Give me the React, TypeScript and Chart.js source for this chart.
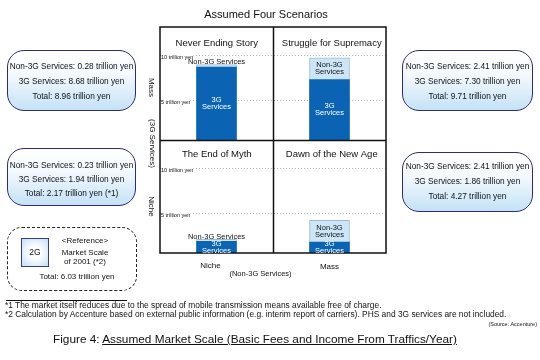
import React, { useEffect, useRef } from 'react';
import { Chart, registerables } from 'chart.js';

Chart.register(...registerables);

const FONT = '"Liberation Sans", Arial, sans-serif';

// x categories: level of Non-3G services; rows: level of 3G services (top to bottom)
const nonThreeGLevels = ['Niche', 'Mass'];
const threeGLevels = ['Mass', 'Niche'];
const scenariosMassRow = ['Never Ending Story', 'Struggle for Supremacy'];
const scenariosNicheRow = ['The End of Myth', 'Dawn of the New Age'];

// trillion yen
const threeGMassRow = [8.68, 7.3];
const nonThreeGMassRow = [0.28, 2.41];
const totalMassRow = [8.96, 9.71];
const threeGNicheRow = [1.94, 1.86];
const nonThreeGNicheRow = [0.23, 2.41];
const totalNicheRow = [2.17, 4.27];

const gridTicks = [5, 10];
const gridTickLabels = ['5 trillion yen', '10 trillion yen'];
const reference2GTotal = 6.03;

const footnotes = [
  '*1 The market itself reduces due to the spread of mobile transmission means available free of charge.',
  '*2 Calculation by Accenture based on external public information (e.g. interim report of carriers). PHS and 3G services are not included.',
];

const DARK = '#0b63b3';
const LIGHT = '#cce6f8';

const fmt = (v: number) => v.toFixed(2);

const scenarioPlugin = {
  id: 'scenarioLabels',
  afterDatasetsDraw(chart: any) {
    const { ctx, chartArea: a, scales } = chart;
    const xs = scales.x;
    const yT = scales.yTop;
    const yB = scales.yBottom;
    const midX = Math.round((xs.getPixelForValue(0) + xs.getPixelForValue(1)) / 2) + 0.5;
    const midY = Math.round(yT.bottom) + 0.5;
    ctx.save();
    // quadrant frame
    ctx.strokeStyle = '#111';
    ctx.lineWidth = 1.5;
    ctx.strokeRect(a.left, a.top, a.right - a.left, a.bottom - a.top);
    ctx.beginPath();
    ctx.moveTo(midX, a.top);
    ctx.lineTo(midX, a.bottom);
    ctx.moveTo(a.left, midY);
    ctx.lineTo(a.right, midY);
    ctx.stroke();

    ctx.fillStyle = '#111';
    ctx.textAlign = 'center';
    ctx.textBaseline = 'middle';

    // overall title
    ctx.font = `11px ${FONT}`;
    ctx.fillText('Assumed Four Scenarios', (a.left + a.right) / 2 - 7, a.top - 12);

    // quadrant titles
    ctx.font = `9.5px ${FONT}`;
    const colCenters = [(a.left + midX) / 2, (midX + a.right) / 2 + 2];
    scenariosMassRow.forEach((t, i) => ctx.fillText(t, colCenters[i], yT.top + 16));
    scenariosNicheRow.forEach((t, i) => ctx.fillText(t, colCenters[i], yB.top + 14));

    // bar labels
    const rows = [
      { axis: yT, d3: 0, dN: 1 },
      { axis: yB, d3: 2, dN: 3 },
    ];
    rows.forEach((row) => {
      const m3s = chart.getDatasetMeta(row.d3).data;
      const mNs = chart.getDatasetMeta(row.dN).data;
      m3s.forEach((m3: any, j: number) => {
        const mN = mNs[j];
        const bottom = Math.min(m3.base, row.axis.bottom);
        const cy = (m3.y + bottom) / 2;
        ctx.font = `7.5px ${FONT}`;
        ctx.textBaseline = 'middle';
        ctx.fillStyle = '#fff';
        ctx.fillText('3G', m3.x, cy - 3.5);
        ctx.fillText('Services', m3.x, cy + 3.5);
        ctx.fillStyle = '#111';
        const hN = mN.base - mN.y;
        if (hN > 16) {
          const c = (mN.y + mN.base) / 2;
          ctx.fillText('Non-3G', mN.x, c - 3.5);
          ctx.fillText('Services', mN.x, c + 3.5);
        } else {
          ctx.textBaseline = 'bottom';
          ctx.fillText('Non-3G Services', mN.x, mN.y + 1);
        }
      });
    });

    // axis labels
    ctx.fillStyle = '#111';
    ctx.textBaseline = 'middle';
    ctx.textAlign = 'center';
    ctx.font = `8px ${FONT}`;
    const rot = (t: string, x: number, y: number) => {
      ctx.save();
      ctx.translate(x, y);
      ctx.rotate(Math.PI / 2);
      ctx.fillText(t, 0, 0);
      ctx.restore();
    };
    rot(threeGLevels[0], a.left - 9, (yT.top + yT.bottom) / 2 + 4);
    rot('(3G Services)', a.left - 8, midY + 3);
    rot(threeGLevels[1], a.left - 9, (yB.top + yB.bottom) / 2 + 10);

    ctx.fillText(nonThreeGLevels[0], xs.getPixelForValue(0) - 6, a.bottom + 13);
    ctx.fillText(nonThreeGLevels[1], xs.getPixelForValue(1), a.bottom + 14);
    ctx.font = `7.5px ${FONT}`;
    ctx.fillText('(Non-3G Services)', midX - 13, a.bottom + 21);
    ctx.restore();
  },
};

const yAxis = (weight: number) => ({
  type: 'linear' as const,
  position: 'left' as const,
  stack: 'rows',
  stackWeight: 1,
  weight,
  stacked: true,
  min: 0.66,
  max: 13.1,
  afterFit: (s: any) => {
    s.width = 0;
  },
  afterBuildTicks: (s: any) => {
    s.ticks = gridTicks.map((v) => ({ value: v }));
  },
  grid: { color: '#b4b4b4', lineWidth: 1, drawTicks: false },
  border: { display: false, dash: [1, 2] },
  ticks: {
    mirror: true,
    padding: 1,
    labelOffset: 2,
    color: '#111',
    font: { size: 5.5, family: FONT },
    showLabelBackdrop: true,
    backdropColor: '#fff',
    backdropPadding: 0,
    callback: (v: any) => {
      const i = gridTicks.indexOf(Number(v));
      return i >= 0 ? gridTickLabels[i] : '';
    },
  },
});

function InfoBox(props: {
  left: number;
  top: number;
  width: number;
  height: number;
  padTop: number;
  lineHeight: number;
  lines: string[];
}) {
  const { left, top, width, height, padTop, lineHeight, lines } = props;
  return (
    <div
      style={{
        position: 'absolute',
        left,
        top,
        width,
        height,
        boxSizing: 'border-box',
        border: '1.5px solid #2e2a7e',
        borderRadius: 17,
        background: 'linear-gradient(to bottom, #ffffff 0%, #f3f9fe 40%, #c4e2f6 100%)',
        paddingTop: padTop,
        display: 'flex',
        flexDirection: 'column',
        alignItems: 'center',
        fontSize: 8.3,
        lineHeight: `${lineHeight}px`,
        whiteSpace: 'nowrap',
      }}
    >
      {lines.map((l, i) => (
        <div key={i}>{l}</div>
      ))}
    </div>
  );
}

const boxLines = (n: number, g: number, t: number, suffix = '') => [
  `Non-3G Services: ${fmt(n)} trillion yen`,
  `3G Services: ${fmt(g)} trillion yen`,
  `Total: ${fmt(t)} trillion yen${suffix}`,
];

export default function App() {
  const ref = useRef<HTMLCanvasElement>(null);

  useEffect(() => {
    const barCommon = { barThickness: 40 };
    const chart = new Chart(ref.current as HTMLCanvasElement, {
      type: 'bar',
      data: {
        labels: nonThreeGLevels,
        datasets: [
          { label: '3G Services', data: threeGMassRow, yAxisID: 'yTop', backgroundColor: DARK, borderWidth: 0, ...barCommon },
          { label: 'Non-3G Services', data: nonThreeGMassRow, yAxisID: 'yTop', backgroundColor: LIGHT, borderColor: '#9fbcd4', borderWidth: 1, ...barCommon },
          { label: '3G Services', data: threeGNicheRow, yAxisID: 'yBottom', backgroundColor: DARK, borderWidth: 0, ...barCommon },
          { label: 'Non-3G Services', data: nonThreeGNicheRow, yAxisID: 'yBottom', backgroundColor: LIGHT, borderColor: '#9fbcd4', borderWidth: 1, ...barCommon },
        ],
      },
      options: {
        responsive: false,
        animation: false,
        layout: { padding: { left: 160, top: 27, right: 154, bottom: 107 } },
        plugins: { legend: { display: false }, tooltip: { enabled: false } },
        scales: {
          x: { type: 'category', stacked: true, display: false },
          yTop: yAxis(2),
          yBottom: yAxis(1),
        } as any,
      },
      plugins: [scenarioPlugin],
    });
    return () => chart.destroy();
  }, []);

  return (
    <div
      style={{
        position: 'absolute',
        left: 0,
        top: 0,
        width: 540,
        height: 360,
        background: '#fff',
        fontFamily: FONT,
        color: '#111',
        overflow: 'hidden',
      }}
    >
      <canvas ref={ref} width={540} height={360} style={{ position: 'absolute', left: 0, top: 0, width: 540, height: 360 }} />

      <InfoBox left={7} top={50} width={129} height={61} padTop={8} lineHeight={15}
        lines={boxLines(nonThreeGMassRow[0], threeGMassRow[0], totalMassRow[0])} />
      <InfoBox left={402} top={50} width={131} height={61} padTop={8} lineHeight={15}
        lines={boxLines(nonThreeGMassRow[1], threeGMassRow[1], totalMassRow[1])} />
      <InfoBox left={7} top={148} width={129} height={58} padTop={8.5} lineHeight={14}
        lines={boxLines(nonThreeGNicheRow[0], threeGNicheRow[0], totalNicheRow[0], ' (*1)')} />
      <InfoBox left={402} top={152} width={131} height={60} padTop={6} lineHeight={15}
        lines={boxLines(nonThreeGNicheRow[1], threeGNicheRow[1], totalNicheRow[1])} />

      {/* 2G reference box */}
      <div style={{ position: 'absolute', left: 7, top: 227, width: 130, height: 64, boxSizing: 'border-box', border: '1.5px dashed #222', borderRadius: 15 }} />
      <div style={{ position: 'absolute', left: 21, top: 238, width: 28, height: 29, boxSizing: 'border-box', border: '1px solid #3a3a8c', background: 'radial-gradient(circle, #ffffff 30%, #bfe0f5 100%)', fontSize: 8.5, lineHeight: '27px', textAlign: 'center' }}>2G</div>
      <div style={{ position: 'absolute', left: 55, top: 236, width: 60, fontSize: 8, lineHeight: '9.5px', textAlign: 'center', whiteSpace: 'nowrap' }}>
        <div>&lt;Reference&gt;</div>
        <div style={{ marginTop: 2 }}>Market Scale</div>
        <div>of 2001 (*2)</div>
      </div>
      <div style={{ position: 'absolute', left: 7, top: 272, width: 140, fontSize: 8, lineHeight: '10px', textAlign: 'center', whiteSpace: 'nowrap' }}>
        Total: {fmt(reference2GTotal)} trillion yen
      </div>

      {/* footnotes */}
      <div style={{ position: 'absolute', left: 6, top: 300, width: 121, borderTop: '1px solid #111' }} />
      <div style={{ position: 'absolute', left: 5, top: 300.5, fontSize: 8.4, lineHeight: '9px', whiteSpace: 'nowrap' }}>
        {footnotes.map((f, i) => (
          <div key={i}>{f}</div>
        ))}
      </div>
      <div style={{ position: 'absolute', right: 3, top: 320, fontSize: 5.5, lineHeight: '8px', whiteSpace: 'nowrap' }}>(Source: Accenture)</div>

      {/* caption */}
      <div style={{ position: 'absolute', left: 53, top: 332, fontSize: 11.8, lineHeight: '14px', whiteSpace: 'nowrap' }}>
        Figure 4: <span style={{ textDecoration: 'underline' }}>Assumed Market Scale (Basic Fees and Income From Traffics/Year)</span>
      </div>
    </div>
  );
}
